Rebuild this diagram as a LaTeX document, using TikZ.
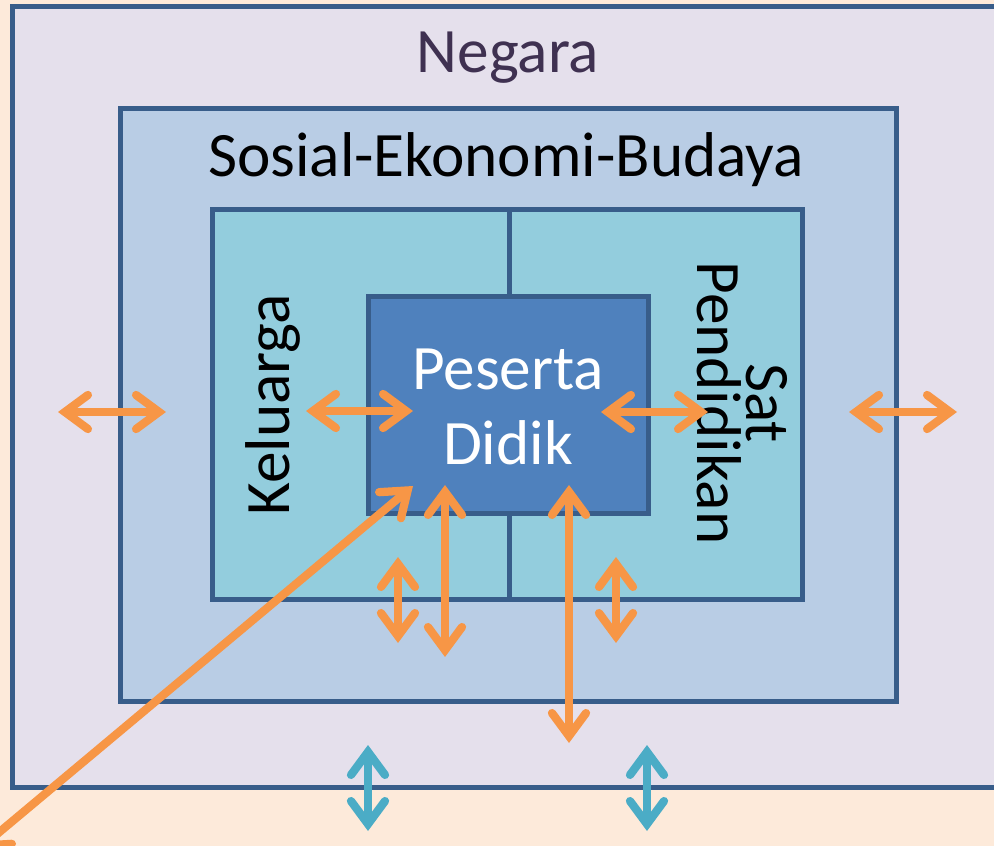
\documentclass[tikz,border=0pt]{standalone}
\usepackage{fontspec}
\setmainfont{Carlito}
\usetikzlibrary{arrows.meta}

\definecolor{peach}{HTML}{FDEADA}
\definecolor{lav}{HTML}{E5E0EC}
\definecolor{sos}{HTML}{B9CDE5}
\definecolor{kel}{HTML}{93CDDD}
\definecolor{pes}{HTML}{4F81BD}
\definecolor{edge}{HTML}{385D8A}
\definecolor{orn}{HTML}{F79646}
\definecolor{tel}{HTML}{4BACC6}
\definecolor{negtext}{HTML}{3F3151}

\tikzset{
  chev/.tip={Straight Barb[length=4.6mm,width=6.8mm,line cap=round,line join=miter]},
  frame/.style={draw=edge, line width=1mm},
  arr/.style={chev-chev, draw=orn, line width=1.65mm, line cap=round},
  arrb/.style={arr, draw=tel},
  lbl/.style={inner sep=0pt, font=\fontsize{36}{43}\selectfont, align=center},
}

\begin{document}
\begin{tikzpicture}[x=0.2mm,y=-0.2mm]
			%%%%% START %%%%%
			\clip (0,0) rectangle (994,846);
			\fill[peach] (0,0) rectangle (994,846);
			
			% Negara
			\draw[frame, fill=lav] (12,7) rectangle (1010,787);
			\node[lbl, text=negtext] (negara) at (508,58) {Negara};
			
			% Sosial-Ekonomi-Budaya
			\draw[frame, fill=sos] (120,109) rectangle (896,701);
			\node[lbl] (sosial) at (506,160) {Sosial-Ekonomi-Budaya};
			
			% Keluarga | Sat Pendidikan
			\draw[frame, fill=kel] (212,210) rectangle (802,600);
			\draw[frame] (509,210) -- (509,600);
			\node[lbl, rotate=90] (keluarga) at (273,405) {Keluarga};
			\node[lbl, rotate=-90, font=\fontsize{36}{28}\selectfont] (satdik) at (742,403) {Sat\\Pendidikan};
			
			% Peserta Didik
			\draw[frame, fill=pes] (368,297) rectangle (648,514);
			\node[lbl, text=white] (peserta) at (508,407) {Peserta\\Didik};
			
			% arrow ends
			\coordinate (negL) at (58,412);   \coordinate (sosL) at (166,412);
			\coordinate (kelA) at (306,411);  \coordinate (kelB) at (413,411);
			\coordinate (satA) at (601,412);  \coordinate (satB) at (708,412);
			\coordinate (sosR) at (849,412);  \coordinate (negR) at (957,412);
			\coordinate (diagA) at (413,486); \coordinate (diagB) at (-22,850);
			\coordinate (v1a) at (398,557);   \coordinate (v1b) at (398,643);
			\coordinate (v2a) at (445,485);   \coordinate (v2b) at (445,657);
			\coordinate (v3a) at (569,485);   \coordinate (v3b) at (569,743);
			\coordinate (v4a) at (616,557);   \coordinate (v4b) at (616,643);
			\coordinate (t1a) at (368,745);   \coordinate (t1b) at (368,831);
			\coordinate (t2a) at (647,745);   \coordinate (t2b) at (647,831);
			
			\draw[arr] (negL) -- (sosL);
			\draw[arr] (kelA) -- (kelB);
			\draw[arr] (satA) -- (satB);
			\draw[arr] (sosR) -- (negR);
			\draw[arr] (diagA) -- (diagB);
			\draw[arr] (v1a) -- (v1b);
			\draw[arr] (v2a) -- (v2b);
			\draw[arr] (v3a) -- (v3b);
			\draw[arr] (v4a) -- (v4b);
			
			\draw[arrb] (t1a) -- (t1b);
			\draw[arrb] (t2a) -- (t2b);
			%%%%% END %%%%%
\end{tikzpicture}
\end{document}
